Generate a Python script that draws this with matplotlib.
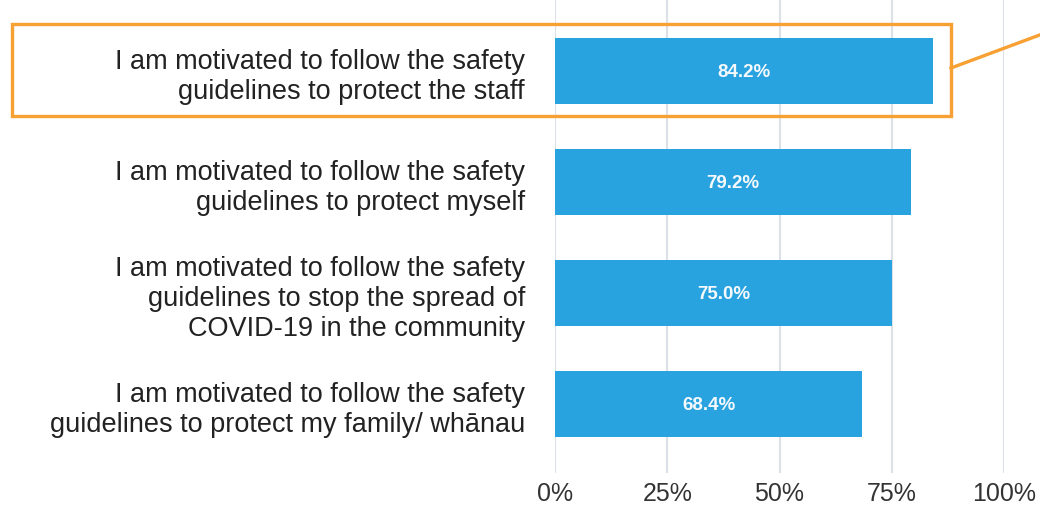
import numpy as np
import matplotlib.pyplot as plt
from matplotlib.patches import Rectangle
from matplotlib.lines import Line2D

plt.rcParams['font.family'] = ['Liberation Sans', 'DejaVu Sans']

# survey statements (top to bottom) and share of respondents agreeing
statements = [
    "I am motivated to follow the safety\nguidelines to protect the staff",
    "I am motivated to follow the safety\nguidelines to protect myself",
    "I am motivated to follow the safety\nguidelines to stop the spread of\nCOVID-19 in the community",
    "I am motivated to follow the safety\nguidelines to protect my family/ wh\u0101nau",
]
percent = [84.2, 79.2, 75.0, 68.4]
xticks = [0, 25, 50, 75, 100]
xtick_labels = ["0%", "25%", "50%", "75%", "100%"]

W, H = 1040, 506
fig = plt.figure(figsize=(W / 100, H / 100), dpi=100)
ax = fig.add_axes([555 / W, 1 - 474 / H, (1004 - 555) / W, 474 / H])

y = np.arange(len(statements))
ax.barh(y, percent, height=0.6, color="#29a3df", zorder=2)
for yi, v in zip(y, percent):
    ax.text(v / 2, yi, f"{v:.1f}%", ha="center", va="center",
            color="#f4f9fd", fontsize=13.5, fontweight="bold", zorder=3)

ax.set_xlim(0, 100)
ax.set_ylim(3.62, -0.65)
ax.set_xticks(xticks)
ax.set_xticklabels(xtick_labels, fontsize=18, color="#333333")
ax.set_yticks(y)
ax.set_yticklabels(statements, fontsize=19.5, color="#222222", linespacing=1.2)
ax.tick_params(axis="both", length=0)
ax.tick_params(axis="x", pad=6)
ax.tick_params(axis="y", pad=21.6)
ax.grid(axis="x", color="#dce1e8", linewidth=1.5, zorder=0)
for s in ax.spines.values():
    s.set_visible(False)

# highlight box around the first statement with a leader line
orange = "#f7a033"
fig.patches.append(Rectangle((12 / W, 1 - 117 / H), (951 - 12) / W, (117 - 25) / H,
                             transform=fig.transFigure, fill=False,
                             edgecolor=orange, linewidth=2.4, zorder=5))
fig.lines.append(Line2D([951 / W, 1045 / W], [1 - 69 / H, 1 - 34 / H],
                        transform=fig.transFigure, color=orange,
                        linewidth=2.4, zorder=5))

fig.savefig("out.png", dpi=100)
